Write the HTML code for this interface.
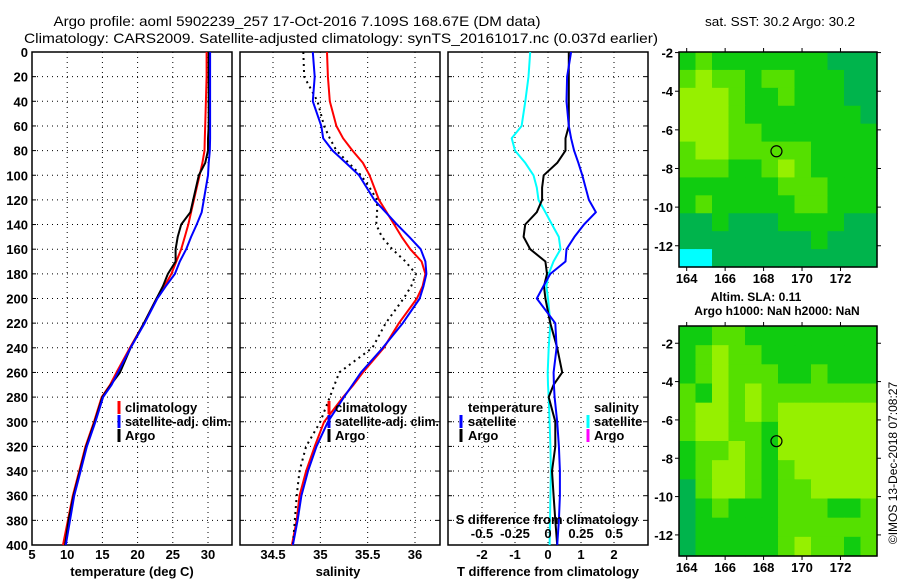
<!DOCTYPE html>
<html><head><meta charset="utf-8"><style>
html,body{margin:0;padding:0;background:#fff;}
svg{display:block;font-family:"Liberation Sans",sans-serif;font-weight:bold;}
</style></head><body>
<svg id="fig" width="900" height="580" viewBox="0 0 900 580" xmlns="http://www.w3.org/2000/svg">
<rect width="900" height="580" fill="#fff"/>
<text x="297" y="26" font-size="14" font-weight="normal" text-anchor="middle" textLength="487" lengthAdjust="spacingAndGlyphs">Argo profile: aoml 5902239_257 17-Oct-2016 7.109S 168.67E (DM data)</text>
<text x="341" y="43" font-size="14" font-weight="normal" text-anchor="middle" textLength="634" lengthAdjust="spacingAndGlyphs">Climatology: CARS2009. Satellite-adjusted climatology: synTS_20161017.nc (0.037d earlier)</text>
<text x="780" y="26" font-size="13" font-weight="normal" text-anchor="middle" textLength="150" lengthAdjust="spacingAndGlyphs">sat. SST: 30.2 Argo: 30.2</text>
<text x="756" y="301" font-size="12" text-anchor="middle">Altim. SLA: 0.11</text>
<text x="777" y="315" font-size="12" text-anchor="middle">Argo h1000: NaN h2000: NaN</text>
<text transform="translate(897,463) rotate(-90)" font-size="12" font-weight="normal" text-anchor="middle">©IMOS 13-Dec-2018 07:08:27</text>
<g id="g"></g>
</svg>
<script>
// ---------- data ----------
const depths = [0,20,40,60,70,80,90,100,110,120,130,140,150,160,170,180,190,200,220,240,260,270,280,300,320,340,360,380,400];
const tempClim = [29.8,29.8,29.7,29.6,29.55,29.5,29.2,28.8,28.4,28.0,27.6,27.2,26.7,26.2,25.5,24.8,23.8,22.7,20.9,18.9,17.0,16.1,14.9,13.8,12.6,11.7,10.8,10.1,9.4];
const tempSat = [30.3,30.3,30.3,30.3,30.3,30.25,30.1,30.0,29.7,29.4,29.1,28.4,27.6,26.9,26.0,25.3,24.0,22.8,21.0,19.0,17.2,16.3,15.1,14.0,12.8,11.9,11.0,10.4,9.8];
const tempArgo = [30.1,30.1,30.1,30.1,30.0,30.0,29.6,28.7,28.3,27.9,27.5,26.2,25.7,25.4,25.4,24.3,23.6,22.7,20.9,19.0,17.5,16.2,15.0,13.9,12.7,11.8,10.9,10.2,9.7];
const salClim = [35.07,35.08,35.10,35.17,35.24,35.34,35.45,35.52,35.57,35.62,35.70,35.78,35.86,35.95,36.07,36.11,36.08,36.02,35.83,35.67,35.45,35.35,35.24,35.04,34.94,34.85,34.78,34.75,34.70];
const salSat = [34.92,34.94,34.92,35.01,35.03,35.13,35.27,35.41,35.49,35.57,35.69,35.81,35.94,36.06,36.11,36.12,36.09,36.05,35.87,35.66,35.43,35.34,35.25,35.08,34.96,34.87,34.80,34.76,34.71];
const salArgo = [34.82,34.83,34.97,35.04,35.10,35.17,35.30,35.43,35.52,35.60,35.60,35.59,35.65,35.76,35.90,36.01,35.96,35.88,35.69,35.55,35.20,35.15,35.10,35.00,34.85,34.78,34.75,34.73,34.71];
const dTSat = [0.70,0.58,0.56,0.63,0.70,0.79,0.92,1.04,1.14,1.24,1.45,1.09,0.80,0.56,0.53,0.07,-0.14,-0.34,0.22,0.26,0.17,0.18,0.20,0.28,0.33,0.36,0.36,0.33,0.28];
const dTArgo = [0.63,0.63,0.63,0.63,0.53,0.53,0.28,-0.13,-0.18,-0.18,-0.34,-0.69,-0.74,-0.54,-0.08,-0.03,-0.12,-0.08,0.07,0.28,0.43,0.17,0.02,0.22,0.22,0.12,0.17,0.22,0.28];
const dSSat = [-0.135,-0.148,-0.172,-0.200,-0.275,-0.250,-0.172,-0.110,-0.085,-0.072,-0.020,0.030,0.082,0.095,0.042,0.005,-0.012,0.000,0.018,0.005,-0.002,0.000,0.005,0.012,0.018,0.022,0.018,0.015,0.012];
const depthTicks = [0,20,40,60,80,100,120,140,160,180,200,220,240,260,280,300,320,340,360,380,400];
const tempTicks = [5,10,15,20,25,30];
const salTicks = [34.5,35,35.5,36];
const dTTicks = [-2,-1,0,1,2];
const dSTicks = [-0.5,-0.25,0,0.25,0.5];
const lonTicks = [164,166,168,170,172];
const latTicks = [-2,-4,-6,-8,-10,-12];
const argoLon = 168.67, argoLat = -7.109;
const sstGrid = [
[1,2,1,1,1,1,1,1,1,0,0,0],
[2,3,2,2,1,2,2,1,1,1,0,0],
[3,3,3,2,1,1,2,1,1,1,0,0],
[3,3,3,2,1,1,1,1,1,1,1,0],
[3,3,3,2,2,1,1,1,1,1,1,1],
[2,3,3,2,2,2,2,2,1,1,1,1],
[2,2,2,1,1,2,3,2,1,1,1,1],
[1,1,1,1,1,1,2,2,2,1,1,1],
[1,2,1,1,1,1,1,2,2,1,1,1],
[0,0,1,0,0,0,1,1,1,1,0,0],
[0,0,0,0,0,0,0,0,1,0,0,0],
[-1,-1,0,0,0,0,0,0,0,0,0,0]];
const slaGrid = [
[1,1,2,2,1,1,1,1,1,1,1,1],
[1,2,3,2,2,1,1,1,1,1,1,1],
[1,2,3,2,2,2,1,1,2,1,1,1],
[2,1,3,2,3,2,2,2,2,2,2,2],
[2,3,3,2,3,2,3,3,3,3,3,3],
[2,3,3,2,2,1,3,3,3,3,3,3],
[1,2,2,3,2,1,3,3,3,3,3,3],
[1,2,3,3,2,1,2,3,3,3,3,3],
[0,2,3,3,2,1,2,2,3,3,3,3],
[0,1,2,1,1,1,2,2,2,1,1,2],
[0,1,1,1,1,1,2,2,2,2,2,2],
[0,1,1,1,1,1,2,3,2,2,1,2]];
// ---------- drawing ----------
const NS='http://www.w3.org/2000/svg';
const G=document.getElementById('g');
function mk(tag,attrs,parent){const e=document.createElementNS(NS,tag);for(const k in attrs)e.setAttribute(k,attrs[k]);(parent||G).appendChild(e);return e;}
const TOP=52,BOT=545;
const yD=d=>TOP+(d/400)*(BOT-TOP);
function lin(d0,d1,p0,p1){return v=>p0+(v-d0)/(d1-d0)*(p1-p0);}
const xT=lin(5,30,32,208), xS=lin(34.5,36,273,415), xdT=lin(0,2,548,614), xdS=v=>xdT(v*4);
function grid(x0,x1,xf,ticks,name){
  const g=mk('g',{});
  
  
  depthTicks.forEach(d=>{if(d>0&&d<400){const l=mk('line',{x1:x0,x2:x1,y1:yD(d),y2:yD(d),stroke:'#000','stroke-width':1,'stroke-dasharray':'1,4'},g);}
    const t1=mk('line',{x1:x0,x2:x0+4,y1:yD(d),y2:yD(d),stroke:'#000'},g);
    const t2=mk('line',{x1:x1-4,x2:x1,y1:yD(d),y2:yD(d),stroke:'#000'},g);});
  ticks.forEach(v=>{const x=xf(v);const l=mk('line',{x1:x,x2:x,y1:TOP,y2:BOT,stroke:'#000','stroke-dasharray':'1,4'},g);
    const t=mk('text',{x:x,y:559,'font-size':13,'text-anchor':'middle'},g);t.textContent=v;});
  const r=mk('rect',{x:x0,y:TOP,width:x1-x0,height:BOT-TOP,fill:'none',stroke:'#000','stroke-width':1.5});
  
}
function line(xs,xf,color,name,dash,w){
  const pts=depths.map((d,i)=>xf(xs[i]).toFixed(1)+','+yD(d).toFixed(1)).join(' ');
  const p=mk('polyline',{points:pts,fill:'none',stroke:color,'stroke-width':w||2,'stroke-linejoin':'round'});
  if(dash)p.setAttribute('stroke-dasharray',dash);
  
}
function txt(x,y,s,name,opts){const t=mk('text',Object.assign({x:x,y:y,'font-size':13},opts||{}));t.textContent=s;return t;}
function marker(x,y,color,name){const r=mk('rect',{x:x-1.5,y:y-11,width:3,height:13,fill:color});}
// panel 1
grid(32,232,xT,tempTicks,'temperature');
depthTicks.forEach(d=>{txt(28,yD(d)+5,d,'depth-tick-label',{'text-anchor':'end'});});
line(tempClim,xT,'#f00','temp-climatology-line');
line(tempArgo,xT,'#000','temp-argo-line');
line(tempSat,xT,'#00f','temp-satellite-line');
txt(132,576,'temperature (deg C)','temperature-axis-title',{'text-anchor':'middle'});
marker(119,412,'#f00','legend-marker-climatology');txt(125,412,'climatology','legend-climatology');
marker(119,426,'#00f','legend-marker-satellite');txt(125,426,'satellite-adj. clim.','legend-satellite',{textLength:106,lengthAdjust:'spacingAndGlyphs'});
marker(119,440,'#000','legend-marker-argo');txt(125,440,'Argo','legend-argo');
// panel 2
grid(240,440,xS,salTicks,'salinity');
line(salClim,xS,'#f00','sal-climatology-line');
line(salArgo,xS,'#000','sal-argo-line','2,4');
line(salSat,xS,'#00f','sal-satellite-line');
txt(338,576,'salinity','salinity-axis-title',{'text-anchor':'middle'});
marker(329,412,'#f00','legend-marker-climatology');txt(335,412,'climatology','legend-climatology');
marker(329,426,'#00f','legend-marker-satellite');txt(335,426,'satellite-adj. clim.','legend-satellite',{textLength:104,lengthAdjust:'spacingAndGlyphs'});
marker(329,440,'#000','legend-marker-argo');txt(335,440,'Argo','legend-argo');
// panel 3
grid(448,648,xdT,dTTicks,'t-difference');
line(dSSat,xdS,'#0ff','s-diff-satellite-line');
line(dTArgo,xdT,'#000','t-diff-argo-line');
line(dTSat,xdT,'#00f','t-diff-satellite-line');
txt(548,576,'T difference from climatology','t-difference-axis-title',{'text-anchor':'middle'});
txt(547,524,'S difference from climatology','s-difference-axis-title',{'text-anchor':'middle'});
dSTicks.forEach(v=>txt(xdS(v),538,v,'s-difference-tick-label',{'text-anchor':'middle'}));
txt(468,412,'temperature','legend-temperature-heading');
marker(461,426,'#00f','legend-marker-t-satellite');txt(468,426,'satellite','legend-t-satellite');
marker(461,440,'#000','legend-marker-t-argo');txt(468,440,'Argo','legend-t-argo');
txt(594,412,'salinity','legend-salinity-heading');
marker(588,426,'#0ff','legend-marker-s-satellite');txt(594,426,'satellite','legend-s-satellite');
marker(588,440,'#f0f','legend-marker-s-argo');txt(594,440,'Argo','legend-s-argo');
// maps
const pal={'-1':'#00ffff','0':'#00b44c','1':'#10cc10','2':'#55e000','3':'#96f000'};
function map(grd,x0,x1,y0,y1,latTop,latBot,name){
  const lonL=163.6,lonR=173.9;
  const xL=lin(lonL,lonR,x0,x1), yL=lin(latTop,latBot,y0,y1);
  const g=mk('g',{});
  const nr=grd.length,nc=grd[0].length,cw=(x1-x0)/nc,ch=(y1-y0)/nr;
  grd.forEach((row,r)=>row.forEach((v,c)=>{const e=mk('rect',{x:x0+c*cw,y:y0+r*ch,width:cw+0.6,height:ch+0.6,fill:pal[v]},g);}));
  const fr=mk('rect',{x:x0,y:y0,width:x1-x0,height:y1-y0,fill:'none',stroke:'#000','stroke-width':1.5},g);
  lonTicks.forEach(v=>{const x=xL(v);mk('line',{x1:x,x2:x,y1:y1,y2:y1+4,stroke:'#000'},g);mk('line',{x1:x,x2:x,y1:y0-4,y2:y0,stroke:'#000'},g);
    txt(x,y1+16,v,name+'-lon-label',{'text-anchor':'middle'});});
  latTicks.forEach(v=>{const y=yL(v);mk('line',{x1:x0-4,x2:x0,y1:y,y2:y,stroke:'#000'},g);mk('line',{x1:x1,x2:x1+4,y1:y,y2:y,stroke:'#000'},g);
    txt(x0-6,y+5,v,name+'-lat-label',{'text-anchor':'end'});});
  const c=mk('circle',{cx:xL(argoLon),cy:yL(argoLat),r:5.5,fill:'none',stroke:'#000','stroke-width':1.2},g);
  
}
map(sstGrid,679,877,52,267,-1.97,-13.1,'sst-map');
map(slaGrid,679,877,326,556,-1.1,-13.1,'sla-map');
</script>
</body></html>
